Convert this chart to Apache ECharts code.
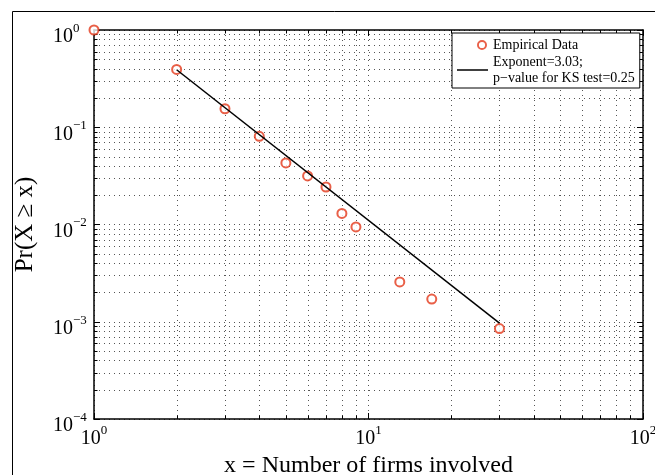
<!DOCTYPE html>
<html>
<head>
<meta charset="utf-8">
<script src="https://cdn.jsdelivr.net/npm/echarts@6/dist/echarts.min.js"></script>
<style>html,body{margin:0;padding:0;background:#fff}#c{width:655px;height:475px}</style>
</head>
<body>
<div id="c"></div>
<script>
// ---- data ----
const empiricalX = [1, 2, 3, 4, 5, 6, 7, 8, 9, 13, 17, 30];
const empiricalY = [1.0, 0.393, 0.155, 0.0807, 0.043, 0.0316, 0.0243, 0.013, 0.00945, 0.00257, 0.00171, 0.00085];
const fitX = [2, 30];
const fitY = [0.39, 0.00097];
const xMajorTicks = [1, 10, 100];
const yMajorTicks = [0.0001, 0.001, 0.01, 0.1, 1];
const xMinorTicks = [2, 3, 4, 5, 6, 7, 8, 9, 20, 30, 40, 50, 60, 70, 80, 90];
const yMinorTicks = [
  0.0002, 0.0003, 0.0004, 0.0005, 0.0006, 0.0007, 0.0008, 0.0009,
  0.002, 0.003, 0.004, 0.005, 0.006, 0.007, 0.008, 0.009,
  0.02, 0.03, 0.04, 0.05, 0.06, 0.07, 0.08, 0.09,
  0.2, 0.3, 0.4, 0.5, 0.6, 0.7, 0.8, 0.9
];
const seriesNames = ['Empirical Data', 'Exponent=3.03;\np\u2212value for KS test=0.25'];
const xName = 'x = Number of firms involved';
const yName = 'Pr(X \u2265 x)';

const FONT = 'Liberation Serif';
const RED = '#e4381a';
const GRID = '#555';
const DASH = [1, 4];

function expLabel(v) {
  const e = Math.round(Math.log10(v));
  const s = e < 0 ? '\u2212' + (-e) : String(e);
  return '{b|10}{s|' + s + '}';
}
const richStyle = {
  b: { fontFamily: FONT, fontSize: 20, color: '#000', lineHeight: 20, verticalAlign: 'bottom' },
  s: { fontFamily: FONT, fontSize: 13, color: '#000', lineHeight: 13, padding: [0, 0, 12, 0], verticalAlign: 'bottom' }
};

const chart = echarts.init(document.getElementById('c'), null, { renderer: 'canvas' });

function gridLineRender(vertical) {
  return function (params, api) {
    const cs = params.coordSys;
    const els = [];
    if (vertical) {
      const x = Math.round(api.coord([api.value(0), 1])[0]) + 0.5;
      els.push({ type: 'line', shape: { x1: x, y1: cs.y, x2: x, y2: cs.y + cs.height }, style: { stroke: GRID, lineWidth: 1, lineDash: DASH } });
      els.push({ type: 'line', shape: { x1: x, y1: cs.y + cs.height, x2: x, y2: cs.y + cs.height - 3.5 }, style: { stroke: '#000', lineWidth: 1 } });
      els.push({ type: 'line', shape: { x1: x, y1: cs.y, x2: x, y2: cs.y + 3.5 }, style: { stroke: '#000', lineWidth: 1 } });
    } else {
      const y = Math.round(api.coord([1, api.value(1)])[1]) + 0.5;
      els.push({ type: 'line', shape: { x1: cs.x, y1: y, x2: cs.x + cs.width, y2: y }, style: { stroke: GRID, lineWidth: 1, lineDash: DASH } });
      els.push({ type: 'line', shape: { x1: cs.x, y1: y, x2: cs.x + 3.5, y2: y }, style: { stroke: '#000', lineWidth: 1 } });
      els.push({ type: 'line', shape: { x1: cs.x + cs.width, y1: y, x2: cs.x + cs.width - 3.5, y2: y }, style: { stroke: '#000', lineWidth: 1 } });
    }
    return { type: 'group', children: els };
  };
}

const option = {
  backgroundColor: '#fff',
  animation: false,
  graphic: [{
    type: 'rect', left: 10, top: 9, silent: true, z: 100,
    shape: { width: 700, height: 500 },
    style: { fill: 'none', stroke: '#000', lineWidth: 1 }
  }],
  grid: { left: 94, right: 12, top: 30, bottom: 56, containLabel: false, outerBoundsMode: 'none' },
  legend: {
    orient: 'vertical',
    left: 452, top: 33,
    padding: [4, 5, 2, 5],
    itemGap: 1,
    itemWidth: 31,
    itemHeight: 10,
    symbolKeepAspect: true,
    backgroundColor: '#fff',
    borderColor: '#000',
    borderWidth: 1,
    textStyle: { fontFamily: FONT, fontSize: 14, color: '#000', lineHeight: 16 },
    data: [
      {
        name: seriesNames[0],
        icon: 'path://M0,0M31,10M20,5a5,5 0 1,0 10,0a5,5 0 1,0 -10,0ZM21.9,5a3.1,3.1 0 1,1 6.2,0a3.1,3.1 0 1,1 -6.2,0Z',
        itemStyle: { color: RED, borderWidth: 0 }
      },
      {
        name: seriesNames[1],
        icon: 'path://M0,0L62,0L62,3L0,3Z',
        itemStyle: { color: '#000', borderWidth: 0 }
      }
    ]
  },
  xAxis: [{
    type: 'log', logBase: 10, min: 1, max: 100,
    name: xName, nameLocation: 'middle', nameGap: 32,
    nameTextStyle: { fontFamily: FONT, fontSize: 24, color: '#000' },
    axisLine: { show: true, onZero: false, lineStyle: { color: '#000', width: 1.5 } },
    axisTick: { show: true, inside: true, length: 6, lineStyle: { color: '#000' } },
    axisLabel: { margin: 10, formatter: expLabel, rich: richStyle },
    splitLine: { show: true, lineStyle: { color: GRID, type: DASH, width: 1 } }
  }, {
    type: 'log', logBase: 10, min: 1, max: 100, position: 'top',
    axisLine: { show: true, onZero: false, lineStyle: { color: '#000', width: 1.5 } },
    axisTick: { show: true, inside: true, length: 6, lineStyle: { color: '#000' } },
    axisLabel: { show: false }, splitLine: { show: false }
  }],
  yAxis: [{
    type: 'log', logBase: 10, min: 0.0001, max: 1,
    name: yName, nameLocation: 'middle', nameGap: 56,
    nameTextStyle: { fontFamily: FONT, fontSize: 25, color: '#000' },
    axisLine: { show: true, onZero: false, lineStyle: { color: '#000', width: 1.5 } },
    axisTick: { show: true, inside: true, length: 6, lineStyle: { color: '#000' } },
    axisLabel: { margin: 41, align: 'left', padding: [14, 0, 0, 0], formatter: expLabel, rich: richStyle },
    splitLine: { show: true, lineStyle: { color: GRID, type: DASH, width: 1 } }
  }, {
    type: 'log', logBase: 10, min: 0.0001, max: 1, position: 'right',
    axisLine: { show: true, onZero: false, lineStyle: { color: '#000', width: 1.5 } },
    axisTick: { show: true, inside: true, length: 6, lineStyle: { color: '#000' } },
    axisLabel: { show: false }, splitLine: { show: false }
  }],
  series: [
    {
      type: 'custom', name: 'xgrid', silent: true, z: 1,
      xAxisIndex: 0, yAxisIndex: 0,
      renderItem: gridLineRender(true),
      encode: { x: 0, y: 1 },
      data: xMinorTicks.map(v => [v, 1])
    },
    {
      type: 'custom', name: 'ygrid', silent: true, z: 1,
      xAxisIndex: 0, yAxisIndex: 0,
      renderItem: gridLineRender(false),
      encode: { x: 0, y: 1 },
      data: yMinorTicks.map(v => [1, v])
    },
    {
      type: 'scatter', name: seriesNames[0], z: 3,
      symbol: 'emptyCircle', symbolSize: 9,
      itemStyle: { color: RED, borderColor: RED, borderWidth: 2 },
      data: empiricalX.map((x, i) => [x, empiricalY[i]])
    },
    {
      type: 'line', name: seriesNames[1], z: 4,
      symbol: 'none', showSymbol: false,
      lineStyle: { color: '#000', width: 1.5 },
      itemStyle: { color: '#000' },
      data: fitX.map((x, i) => [x, fitY[i]])
    }
  ]
};
chart.setOption(option);
</script>
</body>
</html>
